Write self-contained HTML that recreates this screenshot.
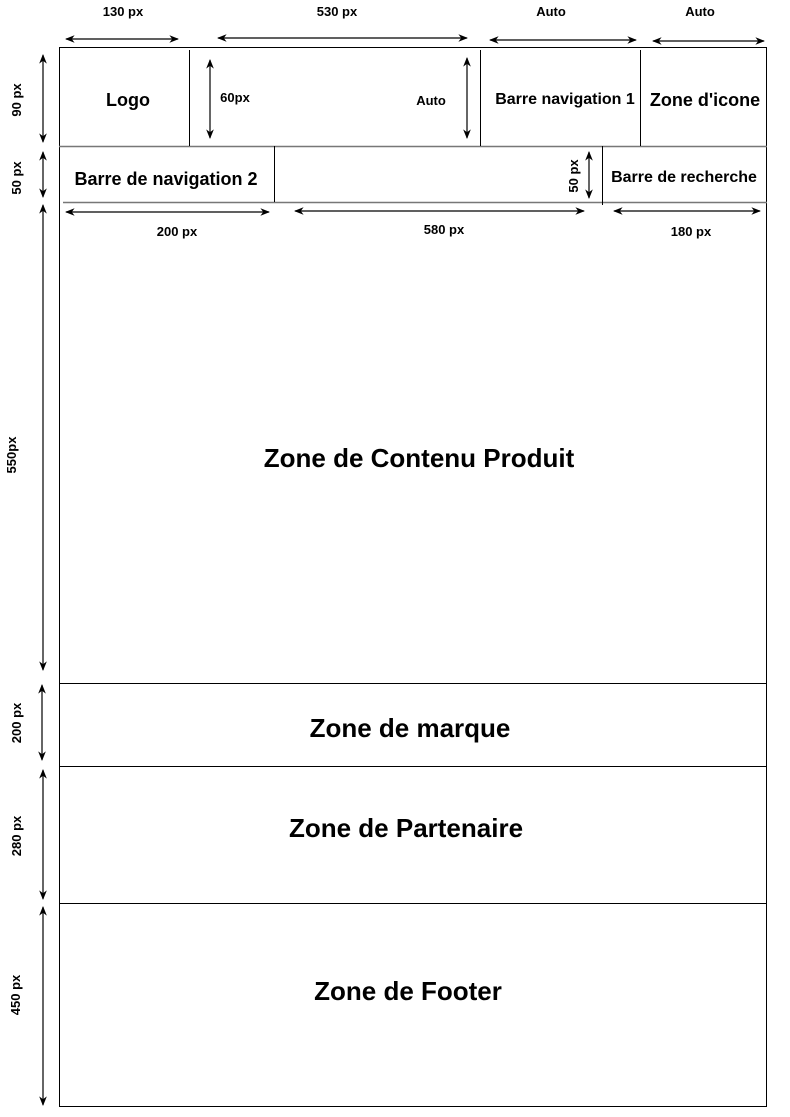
<!DOCTYPE html>
<html><head><meta charset="utf-8"><style>
html,body{margin:0;padding:0;background:#fff;}
svg{display:block;font-family:"Liberation Sans",Arial,sans-serif;font-weight:bold;}
</style></head><body>
<svg width="790" height="1117" viewBox="0 0 790 1117" xmlns="http://www.w3.org/2000/svg">
<defs>
<marker id="a" viewBox="0 0 10 10" refX="9" refY="5" markerWidth="8" markerHeight="8" orient="auto-start-reverse">
<path d="M0,1 L10,5 L0,9 L3,5 z" fill="#000"/></marker>
</defs>
<rect x="59.5" y="47.5" width="707" height="1059" fill="none" stroke="#000" stroke-width="1"/>
<g stroke="#000" stroke-width="1">
<line x1="59" y1="146.5" x2="767" y2="146.5" stroke="#777" stroke-width="1.5"/>
<line x1="63" y1="202.5" x2="767" y2="202.5" stroke="#777" stroke-width="1.5"/>
<line x1="59" y1="683.5" x2="767" y2="683.5"/>
<line x1="59" y1="766.5" x2="767" y2="766.5"/>
<line x1="59" y1="903.5" x2="767" y2="903.5"/>
<line x1="189.5" y1="50" x2="189.5" y2="146"/>
<line x1="480.5" y1="50" x2="480.5" y2="146"/>
<line x1="640.5" y1="50" x2="640.5" y2="146"/>
<line x1="274.5" y1="146" x2="274.5" y2="202"/>
<line x1="602.5" y1="146" x2="602.5" y2="205"/>
</g>
<g stroke="#000" stroke-width="1.2" marker-start="url(#a)" marker-end="url(#a)">
<line x1="66" y1="39" x2="178" y2="39"/>
<line x1="218" y1="38" x2="467" y2="38"/>
<line x1="490" y1="40" x2="636" y2="40"/>
<line x1="653" y1="41" x2="764" y2="41"/>
<line x1="43" y1="55" x2="43" y2="142"/>
<line x1="43" y1="152" x2="43" y2="197"/>
<line x1="43" y1="205" x2="43" y2="670"/>
<line x1="42" y1="685" x2="42" y2="760"/>
<line x1="43" y1="770" x2="43" y2="899"/>
<line x1="43" y1="907" x2="43" y2="1105"/>
<line x1="210" y1="60" x2="210" y2="138"/>
<line x1="467" y1="58" x2="467" y2="138"/>
<line x1="589" y1="152" x2="589" y2="198"/>
<line x1="66" y1="212" x2="269" y2="212"/>
<line x1="295" y1="211" x2="584" y2="211"/>
<line x1="614" y1="211" x2="760" y2="211"/>
</g>
<g font-size="13" text-anchor="middle">
<text x="123" y="16">130 px</text>
<text x="337" y="16">530 px</text>
<text x="551" y="16">Auto</text>
<text x="700" y="16">Auto</text>
<text x="235" y="102">60px</text>
<text x="431" y="105">Auto</text>
<text x="177" y="236">200 px</text>
<text x="444" y="234">580 px</text>
<text x="691" y="236">180 px</text>
<text transform="translate(21,100) rotate(-90)">90 px</text>
<text transform="translate(21,178) rotate(-90)">50 px</text>
<text transform="translate(16,455) rotate(-90)">550px</text>
<text transform="translate(21,723) rotate(-90)">200 px</text>
<text transform="translate(21,836) rotate(-90)">280 px</text>
<text transform="translate(20,995) rotate(-90)">450 px</text>
<text transform="translate(578,176) rotate(-90)">50 px</text>
</g>
<g text-anchor="middle">
<text x="128" y="106" font-size="18">Logo</text>
<text x="565" y="104" font-size="16">Barre navigation 1</text>
<text x="705" y="106" font-size="18">Zone d'icone</text>
<text x="166" y="185" font-size="18">Barre de navigation 2</text>
<text x="684" y="182" font-size="16">Barre de recherche</text>
<text x="419" y="467" font-size="26">Zone de Contenu Produit</text>
<text x="410" y="737" font-size="26">Zone de marque</text>
<text x="406" y="837" font-size="26">Zone de Partenaire</text>
<text x="408" y="1000" font-size="26">Zone de Footer</text>
</g>
</svg>
</body></html>
